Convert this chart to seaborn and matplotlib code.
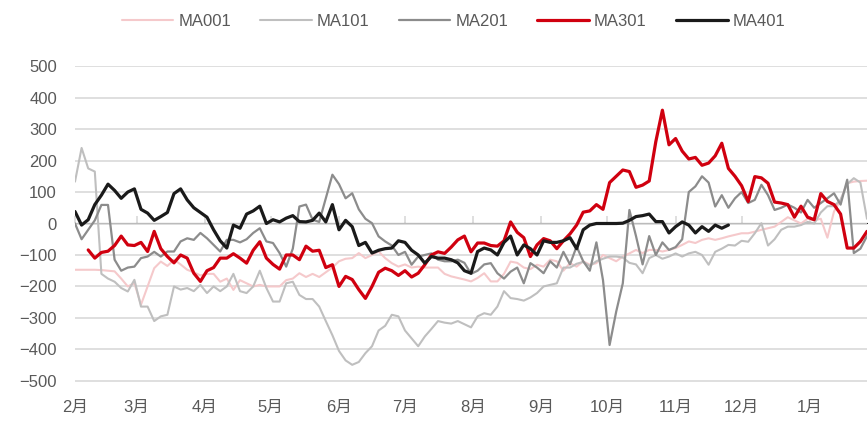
import numpy as np
import pandas as pd
import matplotlib
matplotlib.use("Agg")
import matplotlib.pyplot as plt
import matplotlib.dates as mdates
import matplotlib.ticker as ticker
import seaborn as sns

nan = np.nan

# 3-day sampling, Feb 2023 -> late Jan 2024
dates = pd.date_range("2023-02-01", periods=121, freq="3D")

ma001 = [-147, -147, -147, -147, -148, -150, -152, -175, -200, -190,
         -258, -200, -142, -121, -135, -115, -130, -147, -155, -165,
         -160, -160, -185, -175, -211, -180, -190, -200, -195, -200,
         -200, -200, -180, -175, -158, -170, -160, -170, -155, -140,
         -120, -112, -110, -94, -110, -100, -89, -110, -126, -137,
         -130, -140, -137, -140, -140, -140, -160, -168, -173, -178,
         -184, -173, -158, -184, -184, -160, -121, -125, -140, -145,
         -131, -137, -115, -120, -150, -126, -137, -120, -131, -126,
         -100, -110, -120, -105, -95, -84, -94, -84, -84, -89,
         -84, -78, -68, -57, -62, -52, -47, -52, -47, -41,
         -36, -31, -31, -26, -20, -15, -10, 5, 20, 10,
         0, 15, 10, 15, -45, 38, 75, 128, 133, 135,
         136]

ma101 = [133, 240, 175, 165, -160, -175, -185, -205, -216, -179,
         -264, -264, -310, -295, -290, -200, -210, -205, -215, -195,
         -221, -200, -215, -200, -160, -215, -221, -200, -150, -205,
         -248, -248, -190, -185, -227, -240, -240, -264, -310, -355,
         -405, -435, -449, -440, -412, -390, -340, -325, -290, -295,
         -340, -365, -390, -359, -335, -310, -315, -318, -310, -320,
         -330, -295, -285, -290, -264, -215, -237, -240, -245, -235,
         -221, -200, -195, -190, -140, -140, -128, -122, -135, -120,
         -112, -105, -105, -108, -125, -130, -158, -110, -100, -112,
         -105, -95, -105, -95, -90, -100, -131, -90, -80, -68,
         -70, -55, -58, -31, 1, -70, -50, -20, -10, -10,
         -5, 5, 0, 35, 55, 55, 75, 125, 144, 130,
         15]

ma201 = [0, -50, -20, 10, 59, 59, -115, -150, -140, -137,
         -110, -105, -90, -105, -89, -89, -57, -47, -52, -30,
         -47, -68, -89, -52, -52, -60, -50, -30, -15, -57,
         -62, -94, -137, -80, 54, 60, 12, 5, 80, 155,
         125, 80, 96, 45, 15, 1, -41, -57, -70, -100,
         -90, -131, -105, -100, -95, -115, -120, -120, -115, -125,
         -160, -150, -130, -126, -158, -175, -153, -140, -190, -126,
         -140, -158, -120, -140, -90, -130, -73, -120, -150, -60,
         -180, -386, -280, -190, 43, -40, -130, -40, -100, -60,
         -84, -75, -50, 100, 118, 150, 130, 54, 90, 50,
         80, 100, 65, 75, 123, 90, 43, 50, 60, 50,
         35, 75, 50, 65, 80, 96, 60, 139, -94, -80,
         -40]

ma301 = [nan, nan, -84, -110, -92, -88, -70, -40, -68, -70,
         -60, -89, -25, -80, -105, -125, -100, -110, -158, -184,
         -150, -140, -110, -110, -96, -110, -126, -85, -58, -110,
         -130, -145, -100, -100, -115, -72, -88, -85, -140, -131,
         -200, -168, -178, -210, -238, -200, -155, -142, -150, -165,
         -150, -170, -158, -131, -100, -90, -95, -75, -52, -40,
         -90, -62, -62, -70, -72, -55, 5, -28, -45, -105,
         -68, -48, -55, -80, -55, -33, -5, 36, 40, 60,
         45, 130, 150, 170, 165, 115, 122, 135, 260, 360,
         250, 270, 230, 205, 210, 185, 192, 215, 255, 175,
         150, 120, 70, 149, 145, 128, 68, 65, 60, 20,
         55, 20, 12, 95, 70, 60, 30, -78, -78, -57,
         -25]

ma401 = [38, -5, 12, 60, 90, 125, 105, 80, 100, 110,
         45, 33, 10, 22, 35, 95, 110, 75, 50, 35,
         20, -20, -55, -78, -5, -15, 30, 40, 55, 0,
         12, 5, 17, 25, 6, 5, 10, 33, 5, 60,
         -20, 10, -10, -70, -60, -94, -85, -80, -78, -55,
         -60, -85, -100, -126, -105, -110, -110, -115, -125, -150,
         -158, -89, -78, -84, -100, -60, -40, -100, -68, -80,
         -100, -55, -60, -60, -55, -45, -80, -20, -5, 0,
         0, 0, 0, 1, 10, 22, 25, 30, 6, 6,
         -30, -10, 5, -5, -30, -10, -25, -5, -15, -5,
         nan, nan, nan, nan, nan, nan, nan, nan, nan, nan,
         nan, nan, nan, nan, nan, nan, nan, nan, nan, nan,
         nan]

series = ["MA001", "MA101", "MA201", "MA301", "MA401"]
values = [ma001, ma101, ma201, ma301, ma401]
colors = ["#f5c9cb", "#bfbfbf", "#8c8c8c", "#d0000f", "#1a1a1a"]
widths = [1.5, 1.5, 1.6, 2.3, 2.3]

sns.set_style("white")
plt.rcParams["font.family"] = ["Liberation Sans", "Noto Sans CJK SC", "DejaVu Sans"]
text_color = "#595959"

fig = plt.figure(figsize=(8.68, 4.22), dpi=100)
ax = fig.add_axes([75 / 868, 1 - 381.5 / 422, 792 / 868, 316 / 422])

for name, vals, c, w in zip(series, values, colors, widths):
    sns.lineplot(x=dates, y=vals, ax=ax, color=c, linewidth=w, label=name)

ax.set_ylim(-502, 502)
ax.set_xlim(dates[0], dates[-1])
ax.set_yticks(range(-500, 501, 100))
ax.grid(axis="y", color="#d9d9d9", linewidth=1.2)
ax.grid(axis="x", visible=False)
for s in ax.spines.values():
    s.set_visible(False)

ax.xaxis.set_major_locator(mdates.MonthLocator())
ax.xaxis.set_major_formatter(mdates.DateFormatter("%-m月"))
ax.tick_params(axis="x", length=0, pad=13, labelsize=12, labelcolor=text_color)
ax.tick_params(axis="y", length=0, pad=13, labelsize=12, labelcolor=text_color)
ax.set_xlabel("")
ax.set_ylabel("")

# month ticks hanging from the zero line
zero_ax = ax.secondary_xaxis(0.5)
zero_ax.xaxis.set_major_locator(mdates.MonthLocator())
zero_ax.xaxis.set_major_formatter(ticker.NullFormatter())
zero_ax.tick_params(axis="x", length=5, color="#d9d9d9", width=1.2)
zero_ax.spines["bottom"].set_color("#d9d9d9")
zero_ax.spines["bottom"].set_linewidth(1.2)

leg = ax.legend(loc="center", bbox_to_anchor=(453.5 / 868, 1 - 21 / 422), bbox_transform=fig.transFigure,
                ncol=5, frameon=False, fontsize=12, handlelength=3.1, handletextpad=0.3,
                columnspacing=1.75, borderaxespad=0)
for t in leg.get_texts():
    t.set_color(text_color)

fig.savefig("out.png", dpi=100)
